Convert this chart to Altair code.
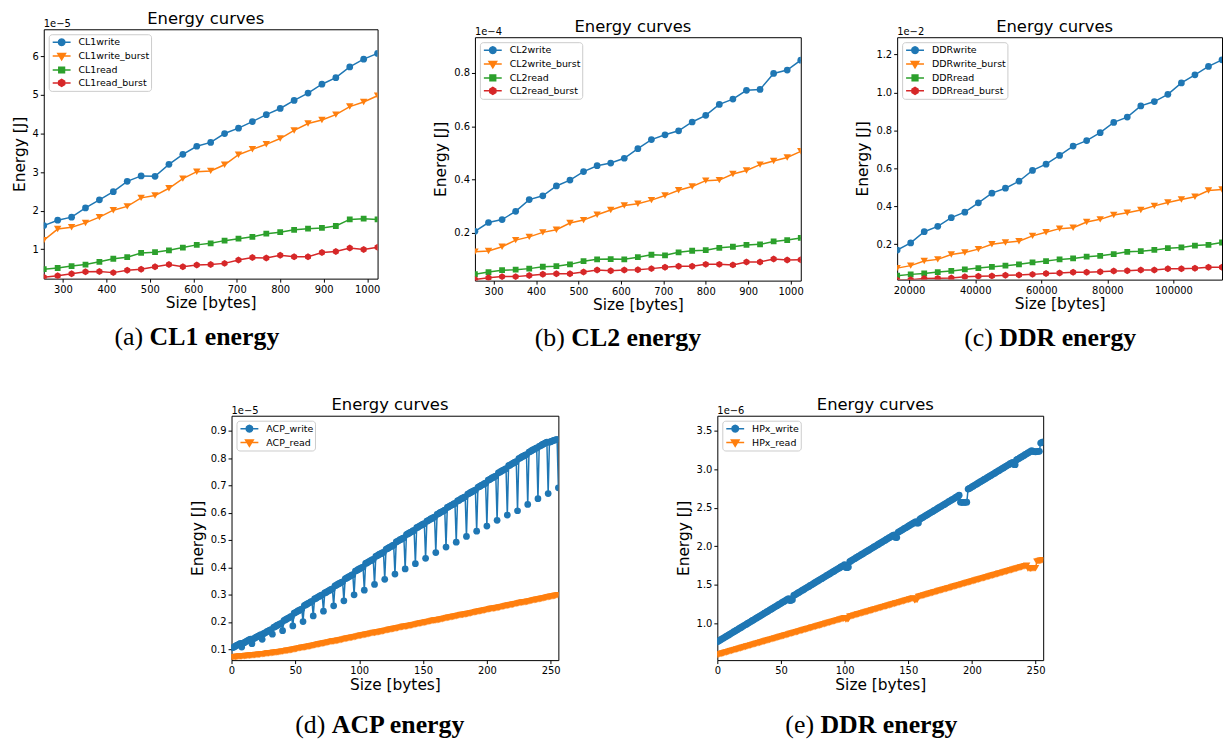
import math
import altair as alt
import pandas as pd

# ---------------- data ----------------
cl1_x = list(range(256, 1025, 32))
cl1_write = [1.61, 1.75, 1.83, 2.07, 2.28, 2.49, 2.76, 2.90, 2.89, 3.20, 3.46, 3.67, 3.77,
             4.00, 4.14, 4.31, 4.49, 4.65, 4.86, 5.05, 5.28, 5.45, 5.73, 5.93, 6.08]
cl1_write_burst = [1.23, 1.52, 1.57, 1.68, 1.83, 2.01, 2.11, 2.33, 2.39, 2.58, 2.83, 3.01, 3.03,
                   3.19, 3.45, 3.59, 3.72, 3.87, 4.08, 4.26, 4.35, 4.49, 4.70, 4.82, 4.98]
cl1_read = [0.48, 0.51, 0.56, 0.60, 0.67, 0.75, 0.79, 0.90, 0.92, 0.97, 1.04, 1.11, 1.15,
            1.22, 1.27, 1.32, 1.40, 1.44, 1.50, 1.53, 1.55, 1.60, 1.77, 1.79, 1.77]
cl1_read_burst = [0.27, 0.31, 0.36, 0.41, 0.42, 0.39, 0.45, 0.48, 0.54, 0.60, 0.54, 0.59, 0.60,
                  0.63, 0.72, 0.78, 0.77, 0.84, 0.80, 0.80, 0.91, 0.94, 1.03, 0.99, 1.05]

cl2_x = list(range(256, 1025, 32))
cl2_write = [0.206, 0.239, 0.250, 0.281, 0.325, 0.339, 0.376, 0.398, 0.430, 0.452, 0.462, 0.480, 0.516,
             0.550, 0.568, 0.583, 0.616, 0.641, 0.682, 0.702, 0.735, 0.738, 0.798, 0.811, 0.848]
cl2_write_burst = [0.129, 0.132, 0.148, 0.173, 0.185, 0.202, 0.212, 0.237, 0.248, 0.268, 0.286, 0.303, 0.309,
                   0.323, 0.340, 0.360, 0.374, 0.396, 0.398, 0.421, 0.434, 0.456, 0.470, 0.483, 0.506]
cl2_read = [0.045, 0.053, 0.060, 0.062, 0.066, 0.073, 0.075, 0.082, 0.094, 0.101, 0.102, 0.101, 0.109,
            0.118, 0.116, 0.127, 0.133, 0.135, 0.144, 0.148, 0.155, 0.157, 0.168, 0.173, 0.181]
cl2_read_burst = [0.025, 0.032, 0.036, 0.036, 0.040, 0.045, 0.047, 0.047, 0.053, 0.061, 0.058, 0.061, 0.062,
                  0.066, 0.071, 0.075, 0.075, 0.082, 0.082, 0.080, 0.091, 0.091, 0.102, 0.098, 0.099]

ddr_x = list(range(16384, 114689, 4096))
ddr_write = [0.169, 0.207, 0.266, 0.294, 0.340, 0.369, 0.418, 0.469, 0.495, 0.532, 0.589, 0.622, 0.668,
             0.717, 0.746, 0.788, 0.842, 0.870, 0.929, 0.952, 0.990, 1.050, 1.093, 1.137, 1.172]
ddr_write_burst = [0.074, 0.087, 0.111, 0.120, 0.146, 0.156, 0.174, 0.200, 0.209, 0.216, 0.244, 0.263, 0.282,
                   0.287, 0.317, 0.331, 0.354, 0.366, 0.380, 0.402, 0.420, 0.436, 0.450, 0.483, 0.488]
ddr_read = [0.034, 0.041, 0.046, 0.053, 0.059, 0.067, 0.074, 0.081, 0.087, 0.094, 0.104, 0.111, 0.120,
            0.125, 0.134, 0.139, 0.148, 0.160, 0.163, 0.170, 0.179, 0.183, 0.193, 0.197, 0.209]
ddr_read_burst = [0.010, 0.013, 0.019, 0.020, 0.022, 0.029, 0.031, 0.033, 0.036, 0.038, 0.041, 0.046, 0.048,
                  0.052, 0.052, 0.055, 0.059, 0.060, 0.064, 0.064, 0.071, 0.071, 0.073, 0.078, 0.078]

acp_x = list(range(0, 257))
acp_write = [
    0.105, 0.106, 0.108, 0.111, 0.114, 0.116, 0.119, 0.121,
    0.108, 0.122, 0.124, 0.127, 0.130, 0.132, 0.135, 0.137,
    0.120, 0.138, 0.140, 0.143, 0.146, 0.148, 0.151, 0.153,
    0.136, 0.157, 0.159, 0.162, 0.165, 0.167, 0.170, 0.172,
    0.155, 0.180, 0.182, 0.185, 0.188, 0.190, 0.193, 0.195,
    0.168, 0.205, 0.207, 0.210, 0.213, 0.215, 0.218, 0.220,
    0.185, 0.232, 0.234, 0.237, 0.240, 0.242, 0.245, 0.247,
    0.201, 0.260, 0.262, 0.265, 0.268, 0.270, 0.273, 0.275,
    0.222, 0.284, 0.286, 0.289, 0.292, 0.294, 0.297, 0.299,
    0.239, 0.306, 0.308, 0.311, 0.314, 0.316, 0.319, 0.321,
    0.259, 0.332, 0.334, 0.337, 0.340, 0.342, 0.345, 0.347,
    0.277, 0.358, 0.360, 0.363, 0.366, 0.368, 0.371, 0.373,
    0.299, 0.386, 0.388, 0.391, 0.394, 0.396, 0.399, 0.401,
    0.316, 0.414, 0.416, 0.419, 0.422, 0.424, 0.427, 0.429,
    0.337, 0.440, 0.442, 0.445, 0.448, 0.450, 0.453, 0.455,
    0.356, 0.466, 0.468, 0.471, 0.474, 0.476, 0.479, 0.481,
    0.375, 0.493, 0.495, 0.498, 0.501, 0.503, 0.506, 0.508,
    0.394, 0.520, 0.522, 0.525, 0.528, 0.530, 0.533, 0.535,
    0.413, 0.545, 0.547, 0.550, 0.553, 0.555, 0.558, 0.560,
    0.433, 0.569, 0.571, 0.574, 0.577, 0.579, 0.582, 0.584,
    0.454, 0.594, 0.596, 0.599, 0.602, 0.604, 0.607, 0.609,
    0.474, 0.619, 0.621, 0.624, 0.627, 0.629, 0.632, 0.634,
    0.492, 0.643, 0.645, 0.648, 0.651, 0.653, 0.656, 0.658,
    0.513, 0.668, 0.670, 0.673, 0.676, 0.678, 0.681, 0.683,
    0.532, 0.693, 0.695, 0.698, 0.701, 0.703, 0.706, 0.708,
    0.551, 0.719, 0.721, 0.724, 0.727, 0.729, 0.732, 0.734,
    0.572, 0.746, 0.748, 0.751, 0.754, 0.756, 0.759, 0.761,
    0.591, 0.772, 0.774, 0.777, 0.780, 0.782, 0.785, 0.787,
    0.607, 0.798, 0.800, 0.803, 0.806, 0.808, 0.811, 0.813,
    0.630, 0.822, 0.824, 0.827, 0.830, 0.832, 0.835, 0.837,
    0.651, 0.843, 0.845, 0.848, 0.851, 0.853, 0.856, 0.858,
    0.670, 0.858, 0.860, 0.862, 0.864, 0.866, 0.867, 0.868,
    0.691]
acp_read = [
    0.070, 0.070, 0.071, 0.071, 0.072, 0.072, 0.073, 0.073,
    0.073, 0.074, 0.074, 0.075, 0.075, 0.076, 0.076, 0.077,
    0.077, 0.078, 0.078, 0.079, 0.079, 0.080, 0.080, 0.081,
    0.081, 0.082, 0.082, 0.083, 0.084, 0.084, 0.085, 0.085,
    0.086, 0.087, 0.087, 0.088, 0.089, 0.089, 0.090, 0.091,
    0.091, 0.092, 0.093, 0.094, 0.094, 0.095, 0.096, 0.097,
    0.098, 0.099, 0.100, 0.101, 0.102, 0.103, 0.104, 0.105,
    0.105, 0.106, 0.107, 0.108, 0.109, 0.110, 0.111, 0.112,
    0.113, 0.114, 0.115, 0.116, 0.117, 0.118, 0.119, 0.120,
    0.121, 0.122, 0.123, 0.124, 0.125, 0.126, 0.127, 0.128,
    0.128, 0.129, 0.130, 0.131, 0.132, 0.133, 0.134, 0.135,
    0.136, 0.137, 0.138, 0.139, 0.140, 0.141, 0.142, 0.143,
    0.144, 0.145, 0.146, 0.147, 0.148, 0.149, 0.150, 0.151,
    0.152, 0.153, 0.154, 0.155, 0.156, 0.157, 0.158, 0.159,
    0.159, 0.160, 0.161, 0.162, 0.163, 0.164, 0.165, 0.166,
    0.167, 0.168, 0.169, 0.170, 0.171, 0.172, 0.173, 0.174,
    0.175, 0.176, 0.177, 0.178, 0.179, 0.180, 0.181, 0.182,
    0.182, 0.183, 0.184, 0.185, 0.186, 0.187, 0.188, 0.189,
    0.190, 0.191, 0.192, 0.193, 0.194, 0.195, 0.196, 0.197,
    0.198, 0.199, 0.200, 0.201, 0.202, 0.203, 0.204, 0.205,
    0.205, 0.206, 0.207, 0.208, 0.209, 0.210, 0.211, 0.212,
    0.213, 0.214, 0.215, 0.216, 0.217, 0.218, 0.219, 0.220,
    0.221, 0.222, 0.223, 0.224, 0.225, 0.225, 0.226, 0.227,
    0.228, 0.229, 0.230, 0.231, 0.232, 0.233, 0.234, 0.235,
    0.236, 0.237, 0.238, 0.239, 0.240, 0.241, 0.242, 0.243,
    0.244, 0.245, 0.246, 0.247, 0.248, 0.248, 0.249, 0.250,
    0.251, 0.252, 0.253, 0.254, 0.255, 0.256, 0.257, 0.258,
    0.259, 0.260, 0.261, 0.262, 0.263, 0.264, 0.265, 0.266,
    0.267, 0.268, 0.269, 0.270, 0.271, 0.271, 0.272, 0.273,
    0.274, 0.275, 0.276, 0.277, 0.278, 0.279, 0.280, 0.281,
    0.282, 0.283, 0.284, 0.285, 0.286, 0.287, 0.288, 0.289,
    0.290, 0.291, 0.292, 0.293, 0.294, 0.295, 0.296, 0.297,
    0.298]

hpx_x = list(range(0, 257))
hpx_write = [
    0.759, 0.771, 0.779, 0.791, 0.802, 0.809, 0.821, 0.830,
    0.841, 0.849, 0.861, 0.870, 0.879, 0.891, 0.900, 0.911,
    0.919, 0.931, 0.940, 0.949, 0.961, 0.970, 0.981, 0.989,
    1.001, 1.010, 1.019, 1.031, 1.040, 1.049, 1.061, 1.070,
    1.081, 1.089, 1.101, 1.110, 1.119, 1.131, 1.140, 1.151,
    1.159, 1.171, 1.180, 1.189, 1.201, 1.210, 1.221, 1.229,
    1.241, 1.250, 1.259, 1.271, 1.280, 1.289, 1.301, 1.310,
    1.320, 1.295, 1.298, 1.305, 1.361, 1.370, 1.379, 1.391,
    1.400, 1.409, 1.421, 1.430, 1.439, 1.451, 1.460, 1.471,
    1.479, 1.491, 1.500, 1.509, 1.521, 1.530, 1.541, 1.549,
    1.561, 1.570, 1.579, 1.591, 1.600, 1.609, 1.621, 1.630,
    1.641, 1.649, 1.661, 1.670, 1.679, 1.691, 1.700, 1.711,
    1.719, 1.731, 1.740, 1.749, 1.761, 1.725, 1.722, 1.730,
    1.800, 1.809, 1.821, 1.830, 1.839, 1.851, 1.860, 1.871,
    1.879, 1.891, 1.900, 1.909, 1.921, 1.930, 1.941, 1.949,
    1.961, 1.970, 1.979, 1.991, 2.000, 2.009, 2.021, 2.030,
    2.041, 2.049, 2.061, 2.070, 2.079, 2.091, 2.100, 2.111,
    2.119, 2.131, 2.140, 2.149, 2.115, 2.112, 2.181, 2.190,
    2.201, 2.210, 2.219, 2.231, 2.240, 2.249, 2.261, 2.270,
    2.281, 2.289, 2.301, 2.310, 2.319, 2.300, 2.302, 2.350,
    2.361, 2.370, 2.379, 2.391, 2.400, 2.409, 2.421, 2.430,
    2.441, 2.449, 2.461, 2.470, 2.479, 2.491, 2.500, 2.511,
    2.519, 2.531, 2.540, 2.549, 2.561, 2.570, 2.581, 2.589,
    2.601, 2.610, 2.619, 2.631, 2.640, 2.649, 2.662, 2.572,
    2.570, 2.569, 2.571, 2.570, 2.572, 2.742, 2.751, 2.759,
    2.771, 2.779, 2.791, 2.800, 2.809, 2.821, 2.830, 2.841,
    2.849, 2.861, 2.870, 2.879, 2.891, 2.900, 2.911, 2.919,
    2.931, 2.940, 2.949, 2.961, 2.970, 2.981, 2.989, 3.001,
    3.010, 3.019, 3.031, 3.040, 3.051, 3.059, 3.071, 3.080,
    3.089, 3.060, 3.058, 3.120, 3.131, 3.140, 3.151, 3.159,
    3.170, 3.179, 3.191, 3.200, 3.211, 3.219, 3.231, 3.240,
    3.232, 3.228, 3.226, 3.229, 3.231, 3.233, 3.340, 3.348,
    3.355]
hpx_read = [
    0.588, 0.593, 0.598, 0.602, 0.607, 0.612, 0.617, 0.621,
    0.626, 0.631, 0.636, 0.640, 0.645, 0.650, 0.655, 0.660,
    0.664, 0.669, 0.674, 0.679, 0.683, 0.688, 0.693, 0.698,
    0.702, 0.707, 0.712, 0.717, 0.722, 0.726, 0.731, 0.736,
    0.741, 0.745, 0.750, 0.755, 0.760, 0.764, 0.769, 0.774,
    0.779, 0.784, 0.788, 0.793, 0.798, 0.803, 0.807, 0.812,
    0.817, 0.822, 0.826, 0.831, 0.836, 0.841, 0.845, 0.850,
    0.855, 0.860, 0.865, 0.869, 0.874, 0.879, 0.884, 0.888,
    0.893, 0.898, 0.903, 0.907, 0.912, 0.917, 0.922, 0.926,
    0.931, 0.936, 0.941, 0.946, 0.950, 0.955, 0.960, 0.965,
    0.969, 0.974, 0.979, 0.984, 0.988, 0.993, 0.998, 1.003,
    1.008, 1.012, 1.017, 1.022, 1.027, 1.031, 1.036, 1.041,
    1.046, 1.050, 1.055, 1.060, 1.065, 1.050, 1.052, 1.055,
    1.084, 1.089, 1.093, 1.098, 1.103, 1.108, 1.113, 1.117,
    1.122, 1.127, 1.132, 1.136, 1.141, 1.146, 1.151, 1.155,
    1.160, 1.165, 1.170, 1.175, 1.179, 1.184, 1.189, 1.194,
    1.198, 1.203, 1.208, 1.213, 1.217, 1.222, 1.227, 1.232,
    1.237, 1.241, 1.246, 1.251, 1.256, 1.260, 1.265, 1.270,
    1.275, 1.279, 1.284, 1.289, 1.294, 1.298, 1.303, 1.308,
    1.313, 1.318, 1.322, 1.300, 1.302, 1.305, 1.341, 1.346,
    1.351, 1.356, 1.360, 1.365, 1.370, 1.375, 1.379, 1.384,
    1.389, 1.394, 1.399, 1.403, 1.408, 1.413, 1.418, 1.422,
    1.427, 1.432, 1.437, 1.441, 1.446, 1.451, 1.456, 1.460,
    1.465, 1.470, 1.475, 1.480, 1.484, 1.489, 1.494, 1.499,
    1.503, 1.508, 1.513, 1.518, 1.522, 1.527, 1.532, 1.537,
    1.542, 1.546, 1.551, 1.556, 1.561, 1.565, 1.570, 1.575,
    1.580, 1.584, 1.589, 1.594, 1.599, 1.604, 1.608, 1.613,
    1.618, 1.623, 1.627, 1.632, 1.637, 1.642, 1.646, 1.651,
    1.656, 1.661, 1.665, 1.670, 1.675, 1.680, 1.685, 1.689,
    1.694, 1.699, 1.704, 1.708, 1.713, 1.718, 1.723, 1.727,
    1.732, 1.737, 1.742, 1.746, 1.712, 1.710, 1.709, 1.711,
    1.712, 1.713, 1.715, 1.800, 1.804, 1.808, 1.812, 1.815,
    1.818]

# ---------------- style ----------------
FONT = "DejaVu Sans"
SERIF = "Liberation Serif"
BLUE, ORANGE, GREEN, RED = "#1f77b4", "#ff7f0e", "#2ca02c", "#d62728"


def poly_path(pts):
    return "M" + "L".join(f"{px:.3f},{py:.3f}" for px, py in pts) + "Z"


HEX = poly_path([(math.cos(math.radians(90 + 60 * k)), math.sin(math.radians(90 + 60 * k))) for k in range(6)])
# legend symbols: short line with the marker on it (unit coords, 1 unit = 6 px)
LINE = "M-1.5,0H1.5"
LEG_CIRCLE = LINE + poly_path([(0.55 * math.cos(2 * math.pi * k / 12), 0.55 * math.sin(2 * math.pi * k / 12)) for k in range(12)])
LEG_TRI = LINE + poly_path([(-0.64, -0.42), (0.64, -0.42), (0.0, 0.64)])
LEG_SQ = LINE + poly_path([(-0.48, -0.48), (0.48, -0.48), (0.48, 0.48), (-0.48, 0.48)])
LEG_HEX = LINE + poly_path([(0.58 * math.cos(math.radians(90 + 60 * k)), 0.58 * math.sin(math.radians(90 + 60 * k))) for k in range(6)])

MARKERS = ["circle", "triangle-down", "square", HEX]
MSIZES = [46, 56, 34, 49]
LEGSYM = [LEG_CIRCLE, LEG_TRI, LEG_SQ, LEG_HEX]
COLORS = [BLUE, ORANGE, GREEN, RED]
CAP_SIZE = 26


def make_panel(x, series, names, xdom, ydom, xticks, xfmt, yticks, yfmt, w, h,
               exp_text, cap_reg, cap_bold, cap_split, cap_y):
    n = len(names)
    xs = alt.Scale(domain=xdom, nice=False, zero=False)
    ys = alt.Scale(domain=ydom, nice=False, zero=False)
    X = alt.X("x:Q", scale=xs, axis=alt.Axis(values=xticks, format=xfmt, title="Size [bytes]",
                                            labelFlush=False, labelOverlap=False))
    Y = alt.Y("y:Q", scale=ys, axis=alt.Axis(values=yticks, format=yfmt, title="Energy [J]",
                                            labelOverlap=False))
    parts = []
    for vals, c, shp, sz in zip(series, COLORS[:n], MARKERS[:n], MSIZES[:n]):
        df = pd.DataFrame({"x": x, "y": vals})
        parts.append(alt.Chart(df).mark_line(color=c, strokeWidth=1.5, clip=True).encode(x=X, y=Y))
        parts.append(alt.Chart(df).mark_point(filled=True, color=c, shape=shp, size=sz, opacity=1,
                                              clip=True).encode(x=X, y=Y))
    leg = alt.Legend(title=None, orient="top-left", offset=5, padding=1, symbolSize=144,
                     symbolStrokeWidth=1.5, symbolOffset=5, labelOffset=10, labelFont=FONT,
                     labelFontSize=9.5, labelColor="black", rowPadding=0, strokeColor="#cccccc",
                     fillColor="white", cornerRadius=3)
    leg_df = pd.DataFrame({"s": names, "x": [None] * n, "y": [None] * n})
    parts.append(alt.Chart(leg_df).mark_point(filled=True, opacity=1).encode(
        x=X, y=Y,
        fill=alt.Fill("s:N", scale=alt.Scale(domain=names, range=COLORS[:n]), legend=leg),
        stroke=alt.Stroke("s:N", scale=alt.Scale(domain=names, range=COLORS[:n]), legend=leg),
        shape=alt.Shape("s:N", scale=alt.Scale(domain=names, range=LEGSYM[:n]), legend=leg)))
    one = pd.DataFrame({"v": [0]})
    parts.append(alt.Chart(one).mark_text(text=exp_text, align="left", baseline="middle", font=FONT,
                                          fontSize=10, color="black").encode(x=alt.value(0), y=alt.value(-5)))
    parts.append(alt.Chart(one).mark_text(text=cap_reg, align="right", baseline="alphabetic", font=SERIF,
                                          fontSize=CAP_SIZE, color="black").encode(x=alt.value(cap_split), y=alt.value(cap_y)))
    parts.append(alt.Chart(one).mark_text(text=cap_bold, align="left", baseline="alphabetic", font=SERIF,
                                          fontSize=CAP_SIZE, fontWeight="bold", color="black").encode(
        x=alt.value(cap_split + 6.5), y=alt.value(cap_y)))
    title = alt.TitleParams(text="Energy curves", font=FONT, fontSize=16.5, fontWeight="normal",
                            color="black", anchor="middle", frame="group", offset=-8, dx=-5)
    return alt.layer(*parts).properties(width=w, height=h, title=title)


def spacer(w, h):
    return alt.Chart(pd.DataFrame({"v": [0]})).mark_point(opacity=0).properties(
        width=w, height=h, view=alt.ViewBackground(stroke="transparent"))


RES = dict(x="independent", y="independent", fill="independent", stroke="independent", shape="independent")

pa = make_panel(cl1_x, [cl1_write, cl1_write_burst, cl1_read, cl1_read_burst],
                ["CL1write", "CL1write_burst", "CL1read", "CL1read_burst"],
                [256, 1024], [0.234, 6.706], [300, 400, 500, 600, 700, 800, 900, 1000], "d",
                [1, 2, 3, 4, 5, 6], "d", 336, 251, "1e\u22125", "(a)", "CL1 energy", 100, 318)
pb = make_panel(cl2_x, [cl2_write, cl2_write_burst, cl2_read, cl2_read_burst],
                ["CL2write", "CL2write_burst", "CL2read", "CL2read_burst"],
                [256, 1024], [0.021, 0.934], [300, 400, 500, 600, 700, 800, 900, 1000], "d",
                [0.2, 0.4, 0.6, 0.8], ".1f", 328, 245, "1e\u22124", "(b)", "CL2 energy", 90.5, 311)
pc = make_panel(ddr_x, [ddr_write, ddr_write_burst, ddr_read, ddr_read_burst],
                ["DDRwrite", "DDRwrite_burst", "DDRread", "DDRread_burst"],
                [16384, 114688], [0.0133, 1.291], [20000, 40000, 60000, 80000, 100000], "d",
                [0.2, 0.4, 0.6, 0.8, 1.0, 1.2], ".1f", 327, 244, "1e\u22122", "(c)", "DDR energy", 96.3, 311)
pd_ = make_panel(acp_x, [acp_write, acp_read], ["ACP_write", "ACP_read"],
                 [0, 256], [0.06, 0.955], [0, 50, 100, 150, 200, 250], "d",
                 [0.1, 0.2, 0.3, 0.4, 0.5, 0.6, 0.7, 0.8, 0.9], ".1f", 329, 246, "1e\u22125",
                 "(d)", "ACP energy", 94.4, 319)
pe = make_panel(hpx_x, [hpx_write, hpx_read], ["HPx_write", "HPx_read"],
                [0, 256], [0.522, 3.694], [0, 50, 100, 150, 200, 250], "d",
                [1.0, 1.5, 2.0, 2.5, 3.0, 3.5], ".1f", 328, 246, "1e\u22126",
                "(e)", "DDR energy", 97.3, 319)

bc = alt.hconcat(pb, pc, spacing=97, bounds="flush").resolve_scale(**RES)
bc_col = alt.vconcat(spacer(1, 1), bc, spacing=7, bounds="flush").resolve_scale(**RES)
row1 = alt.hconcat(pa, bc_col, spacing=98, bounds="flush").resolve_scale(**RES)
row2 = alt.hconcat(spacer(29, 1), pd_, pe, spacing=160, bounds="flush").resolve_scale(**RES)

chart = alt.vconcat(row1, row2, spacing=389, bounds="flush").resolve_scale(**RES).properties(
    padding={"left": 3, "top": 0, "right": 0, "bottom": 0}
).configure(font=FONT).configure_view(stroke="black", strokeWidth=1).configure_axis(
    labelFont=FONT, labelFontSize=10, labelColor="black", tickColor="black", tickSize=3.5,
    tickWidth=1, domain=False, grid=False, titleFont=FONT, titleFontSize=15.5,
    titleFontWeight="normal", titleColor="black", labelPadding=2
).configure_axisX(titlePadding=2).configure_axisY(titlePadding=5)

chart.save("out.html", embed_options={"renderer": "svg", "actions": False})
